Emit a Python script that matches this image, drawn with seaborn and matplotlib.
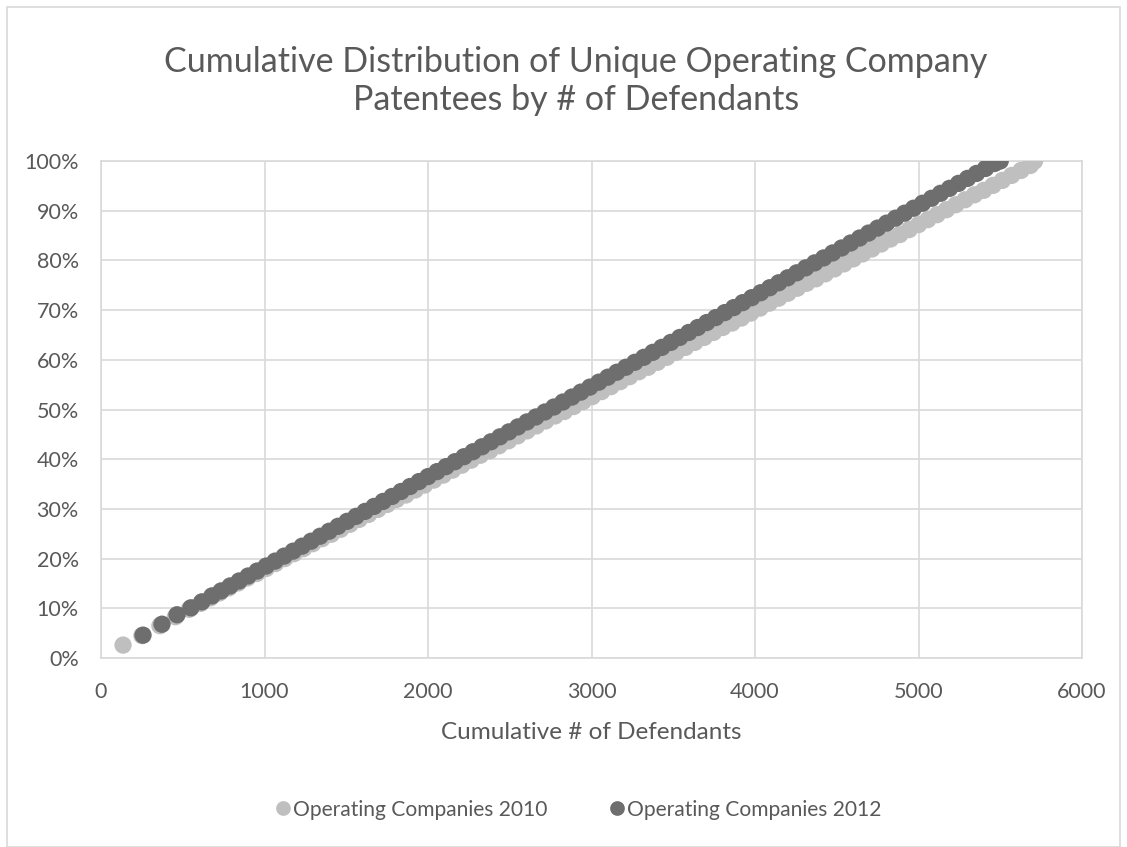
import matplotlib
matplotlib.use("Agg")
import matplotlib.pyplot as plt
import seaborn as sns
import pandas as pd
from matplotlib.patches import Rectangle
from matplotlib.ticker import PercentFormatter

# ---- data (x = cumulative # of defendants, y = cumulative %) ----
x_2010 = [135, 250, 360, 455, 540, 610, 670, 725, 782, 839, 896, 953, 1010, 1067, 1124,
          1181, 1238, 1295, 1352, 1409, 1466, 1523, 1580, 1637, 1694, 1751, 1808, 1865,
          1922, 1979, 2036, 2093, 2150, 2207, 2264, 2321, 2378, 2435, 2492, 2549, 2606,
          2663, 2720, 2777, 2834, 2891, 2948, 3005, 3062, 3119, 3176, 3233, 3290, 3347,
          3404, 3461, 3518, 3575, 3632, 3689, 3746, 3803, 3860, 3917, 3974, 4031, 4088,
          4145, 4202, 4259, 4316, 4373, 4430, 4487, 4544, 4601, 4658, 4715, 4772, 4829,
          4886, 4943, 5000, 5057, 5114, 5171, 5228, 5285, 5342, 5399, 5456, 5513, 5570,
          5627, 5684, 5710]
y_2010 = [2.6, 4.5, 6.5, 8.3, 9.8, 11.0, 12.1, 13.1, 14.1, 15.1, 16.1, 17.0, 18.0, 19.0,
          20.0, 21.0, 22.0, 23.0, 24.0, 24.9, 25.9, 26.9, 27.9, 28.9, 29.9, 30.9, 31.9,
          32.8, 33.8, 34.8, 35.8, 36.8, 37.8, 38.8, 39.8, 40.8, 41.7, 42.7, 43.7, 44.7,
          45.7, 46.7, 47.7, 48.7, 49.6, 50.6, 51.6, 52.6, 53.6, 54.6, 55.6, 56.6, 57.6,
          58.5, 59.5, 60.5, 61.5, 62.5, 63.5, 64.5, 65.5, 66.5, 67.4, 68.4, 69.4, 70.4,
          71.4, 72.4, 73.4, 74.4, 75.4, 76.3, 77.3, 78.3, 79.3, 80.3, 81.3, 82.3, 83.3,
          84.3, 85.2, 86.2, 87.2, 88.2, 89.2, 90.2, 91.2, 92.2, 93.2, 94.1, 95.1, 96.1,
          97.1, 98.1, 99.1, 100.0]
x_2012 = [257, 373, 465, 550, 617, 679, 735, 790, 845, 900, 955, 1010, 1065, 1120, 1175,
          1230, 1285, 1340, 1395, 1450, 1505, 1560, 1615, 1670, 1725, 1780, 1835, 1890,
          1945, 2000, 2055, 2110, 2165, 2220, 2275, 2330, 2385, 2440, 2495, 2550, 2605,
          2660, 2715, 2770, 2825, 2880, 2935, 2990, 3045, 3100, 3155, 3210, 3265, 3320,
          3375, 3430, 3485, 3540, 3595, 3650, 3705, 3760, 3815, 3870, 3925, 3980, 4035,
          4090, 4145, 4200, 4255, 4310, 4365, 4420, 4475, 4530, 4585, 4640, 4695, 4750,
          4805, 4860, 4915, 4970, 5025, 5080, 5135, 5190, 5245, 5300, 5355, 5410, 5465,
          5500]
y_2012 = [4.6, 6.8, 8.7, 10.1, 11.3, 12.5, 13.5, 14.5, 15.5, 16.5, 17.5, 18.5, 19.5,
          20.5, 21.5, 22.5, 23.5, 24.5, 25.5, 26.5, 27.5, 28.5, 29.5, 30.5, 31.5, 32.5,
          33.5, 34.5, 35.5, 36.5, 37.5, 38.5, 39.5, 40.5, 41.5, 42.5, 43.5, 44.5, 45.5,
          46.5, 47.5, 48.5, 49.5, 50.5, 51.5, 52.5, 53.5, 54.5, 55.5, 56.5, 57.5, 58.5,
          59.5, 60.5, 61.5, 62.5, 63.5, 64.5, 65.5, 66.5, 67.5, 68.5, 69.5, 70.5, 71.5,
          72.5, 73.5, 74.5, 75.5, 76.5, 77.5, 78.5, 79.5, 80.5, 81.5, 82.5, 83.5, 84.5,
          85.5, 86.5, 87.5, 88.5, 89.5, 90.5, 91.5, 92.5, 93.5, 94.5, 95.5, 96.5, 97.5,
          98.5, 99.5, 100.0]
series_names = ["Operating Companies 2010", "Operating Companies 2012"]
series_colors = ["#BFBFBF", "#6E6E6E"]
x_ticks = [0, 1000, 2000, 3000, 4000, 5000, 6000]
y_ticks = [0, 10, 20, 30, 40, 50, 60, 70, 80, 90, 100]
title = "Cumulative Distribution of Unique Operating Company\nPatentees by # of Defendants"
x_label = "Cumulative # of Defendants"

df = pd.concat([
    pd.DataFrame({"x": x_2010, "y": y_2010, "series": series_names[0]}),
    pd.DataFrame({"x": x_2012, "y": y_2012, "series": series_names[1]}),
], ignore_index=True)

sns.set_theme(style="white")
plt.rcParams["font.family"] = ["Lato", "DejaVu Sans"]
text_color = "#595959"
grid_color = "#D9D9D9"

fig = plt.figure(figsize=(11.27, 8.47), dpi=100)
ax = fig.add_axes([101 / 1127, 1 - 658 / 847, (1082 - 101) / 1127, (658 - 161) / 847])

sns.scatterplot(data=df, x="x", y="y", hue="series", hue_order=series_names,
                palette=dict(zip(series_names, series_colors)), s=155,
                edgecolor="none", linewidth=0, ax=ax, legend=True, zorder=3)

ax.set_xlim(0, 6000)
ax.set_ylim(0, 100)
ax.set_xticks(x_ticks)
ax.set_yticks(y_ticks)
ax.yaxis.set_major_formatter(PercentFormatter(100, decimals=0))
ax.grid(True, color=grid_color, linewidth=1.2, zorder=0)
ax.set_axisbelow(True)
for sp in ax.spines.values():
    sp.set_color(grid_color)
    sp.set_linewidth(1.2)
ax.tick_params(axis="y", length=0, labelsize=15.5, colors=text_color, pad=16)
ax.tick_params(axis="x", length=0, labelsize=15.5, colors=text_color, pad=17)
ax.set_xlabel(x_label, fontsize=17.5, color=text_color, labelpad=15)
ax.set_ylabel("")

fig.text(0.511, 1 - 81 / 847, title, ha="center", va="center", fontsize=24.5,
         color=text_color, linespacing=1.2)

sns.move_legend(ax, "center", bbox_to_anchor=(0.485, -0.305), ncol=2, frameon=False,
                title=None, fontsize=15.1, handletextpad=0.0, columnspacing=2.8,
                markerscale=0.85, handlelength=1.0)
leg = ax.get_legend()
for t in leg.get_texts():
    t.set_color(text_color)

fig.patches.append(Rectangle((7 / 1127, 0.0), 1113 / 1127, 1 - 7 / 847,
                             transform=fig.transFigure, fill=False,
                             edgecolor="#D9D9D9", linewidth=1.2))

fig.savefig("out.png", dpi=100)
